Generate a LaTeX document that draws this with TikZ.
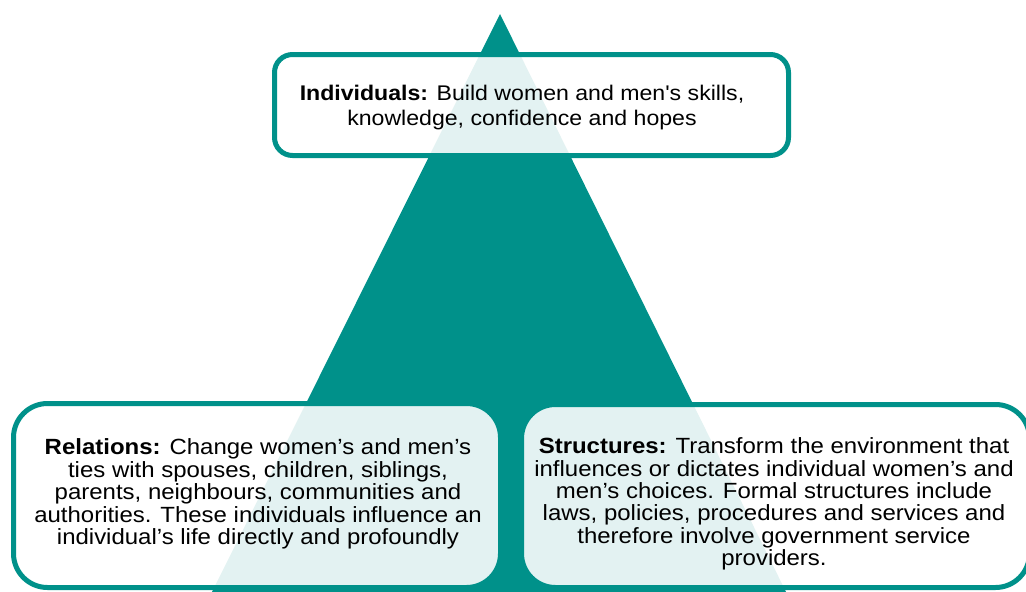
\documentclass[tikz,border=0pt]{standalone}
\usepackage{fontspec}
\setmainfont{Liberation Sans}[FakeStretch=1.09, Ligatures=TeXOff]
\definecolor{teal}{RGB}{0,145,138}
\begin{document}
\begin{tikzpicture}[x=1pt,y=-1pt,
  panel/.style={draw=teal, line width=5pt, fill=white, fill opacity=0.89,
    draw opacity=1, inner sep=0pt},
  caption/.style={align=center, inner sep=0pt, text=black}]
\useasboundingbox (0,0) rectangle (1026,592);

% pyramid behind the three panels
\fill[teal] (500,14) -- (790,600) -- (208,600) -- cycle;

% panels
\node[panel, rounded corners=18pt, minimum width=514pt, minimum height=101pt]
  (indiv) at (531.5,105) {};
\node[panel, rounded corners=34pt, minimum width=487pt, minimum height=184pt]
  (rel) at (257,495.5) {};
\node[panel, rounded corners=34pt, minimum width=508pt, minimum height=183pt]
  (struct) at (775.5,496) {};

% panel texts
\node[caption, font=\fontsize{21.2}{25}\selectfont] (indivtext) at (522,108)
  {\textbf{Individuals:} Build women and men's skills,\\
   knowledge, confidence and hopes};
\node[caption, font=\fontsize{22}{22.4}\selectfont] (reltext) at (258,494)
  {\textbf{Relations:} Change women’s and men’s\\
   ties with spouses, children, siblings,\\
   parents, neighbours, communities and\\
   authorities. These individuals influence an\\
   individual’s life directly and profoundly};
\node[caption, font=\fontsize{22}{22.4}\selectfont] (structtext) at (774,504)
  {\textbf{Structures:} Transform the environment that\\
   influences or dictates individual women’s and\\
   men’s choices. Formal structures include\\
   laws, policies, procedures and services and\\
   therefore involve government service\\
   providers.};
\end{tikzpicture}
\end{document}
